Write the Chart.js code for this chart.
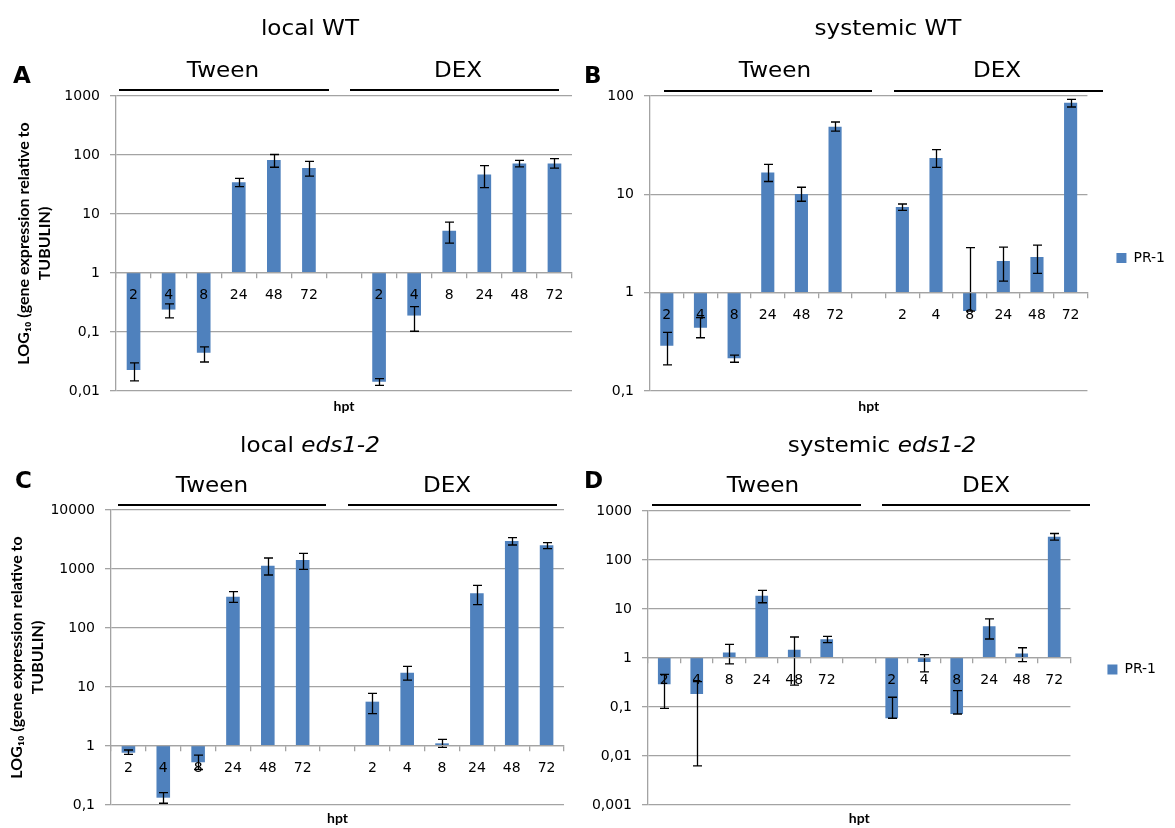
<!DOCTYPE html>
<html>
<head>
<meta charset="utf-8">
<script src="https://cdn.jsdelivr.net/npm/chart.js@4.4.0/dist/chart.umd.min.js"></script>
<style>
  html, body { margin: 0; padding: 0; background: #fff; }
  #wrap { position: relative; width: 1175px; height: 828px; overflow: hidden; background: #fff; }
  canvas { position: absolute; }
  .t { position: absolute; white-space: nowrap; font-family: "DejaVu Sans", sans-serif; color: #000; }
  .ttl { font-size: 21px; line-height: 21px; transform: translateX(-50%) scaleX(1.1); }
  .hdr { font-size: 21px; line-height: 21px; transform: translateX(-50%) scaleX(1.1); }
  .let { font-size: 23px; line-height: 23px; font-weight: bold; }
  .ln { position: absolute; height: 2px; background: #000; }
</style>
</head>
<body>
<div id="wrap">
  <canvas id="cA" width="580" height="420" style="left:0;top:0"></canvas>
  <canvas id="cB" width="595" height="420" style="left:580px;top:0"></canvas>
  <canvas id="cC" width="580" height="408" style="left:0;top:420px"></canvas>
  <canvas id="cD" width="595" height="408" style="left:580px;top:420px"></canvas>

  <div class="t ttl" style="left:310px;top:18px">local WT</div>
  <div class="t ttl" style="left:888px;top:18px">systemic WT</div>
  <div class="t ttl" style="left:310px;top:435px">local <i>eds1-2</i></div>
  <div class="t ttl" style="left:882px;top:435px">systemic <i>eds1-2</i></div>

  <div class="t let" style="left:13px;top:64px">A</div>
  <div class="t let" style="left:584px;top:64px">B</div>
  <div class="t let" style="left:15px;top:469px">C</div>
  <div class="t let" style="left:584px;top:469px">D</div>

  <div class="t hdr" style="left:223px;top:60px">Tween</div>
  <div class="t hdr" style="left:458px;top:60px">DEX</div>
  <div class="ln" style="left:119px;width:210px;top:89px"></div>
  <div class="ln" style="left:350px;width:209px;top:89px"></div>

  <div class="t hdr" style="left:775px;top:60px">Tween</div>
  <div class="t hdr" style="left:997px;top:60px">DEX</div>
  <div class="ln" style="left:664px;width:208px;top:90px"></div>
  <div class="ln" style="left:894px;width:209px;top:90px"></div>

  <div class="t hdr" style="left:212px;top:475px">Tween</div>
  <div class="t hdr" style="left:447px;top:475px">DEX</div>
  <div class="ln" style="left:118px;width:208px;top:504px"></div>
  <div class="ln" style="left:348px;width:209px;top:504px"></div>

  <div class="t hdr" style="left:763px;top:475px">Tween</div>
  <div class="t hdr" style="left:986px;top:475px">DEX</div>
  <div class="ln" style="left:652px;width:209px;top:504px"></div>
  <div class="ln" style="left:882px;width:208px;top:504px"></div>
</div>
<script>
// ---------- data ----------
const categories = ['2','4','8','24','48','72','','2','4','8','24','48','72'];
const seriesName = 'PR-1';

// Panel A: local WT
const A_values  = [0.0226, 0.24, 0.0445, 34.5, 82, 60, null, 0.0144, 0.19, 5.2, 46.5, 72, 72];
const A_errHigh = [0.030, 0.30, 0.056, 40.3, 102, 78, null, 0.0162, 0.27, 7.3, 66, 81, 87];
const A_errLow  = [0.0148, 0.174, 0.031, 29.2, 62, 44, null, 0.0125, 0.103, 3.2, 28, 63, 60];
const A_tickValues = [0.01, 0.1, 1, 10, 100, 1000];
const A_tickLabels = ['0,01', '0,1', '1', '10', '100', '1000'];

// Panel B: systemic WT
const B_values  = [0.289, 0.44, 0.215, 16.7, 10.1, 48.8, null, 7.43, 23.4, 0.65, 2.1, 2.3, 85.5];
const B_errHigh = [0.395, 0.557, 0.232, 20.2, 11.8, 54.4, null, 7.97, 28.5, 2.87, 2.91, 3.05, 92.5];
const B_errLow  = [0.184, 0.348, 0.196, 13.5, 8.5, 44, null, 6.87, 18.8, 0.65, 1.31, 1.57, 77.3];
const B_tickValues = [0.1, 1, 10, 100];
const B_tickLabels = ['0,1', '1', '10', '100'];

// Panel C: local eds1-2
const C_values  = [0.77, 0.133, 0.53, 340, 1138, 1422, null, 5.64, 17.5, 1.11, 387, 2985, 2518];
const C_errHigh = [0.855, 0.162, 0.70, 413, 1536, 1845, null, 7.8, 22.4, 1.3, 529, 3400, 2794];
const C_errLow  = [0.72, 0.107, 0.40, 272, 791, 986, null, 3.53, 13.1, 0.95, 249, 2553, 2213];
const C_tickValues = [0.1, 1, 10, 100, 1000, 10000];
const C_tickLabels = ['0,1', '1', '10', '100', '1000', '10000'];

// Panel D: systemic eds1-2
const D_values  = [0.29, 0.184, 1.3, 18.6, 1.48, 2.4, null, 0.059, 0.83, 0.072, 4.42, 1.24, 297];
const D_errHigh = [0.465, 0.33, 1.9, 23.9, 2.68, 2.77, null, 0.158, 1.17, 0.216, 6.3, 1.62, 347];
const D_errLow  = [0.094, 0.0063, 0.76, 13.4, 0.28, 2.05, null, 0.059, 0.52, 0.072, 2.44, 0.84, 254];
const D_tickValues = [0.001, 0.01, 0.1, 1, 10, 100, 1000];
const D_tickLabels = ['0,001', '0,01', '0,1', '1', '10', '100', '1000'];

const yTitle = ['LOG\u2081\u2080 (gene expression relative to', 'TUBULIN)'];
const xTitle = 'hpt';

// ---------- drawing ----------
const GRID = '#a3a3a3';
const BAR = '#4F81BD';

const errBars = {
  id: 'errBars',
  afterDatasetsDraw(chart, args, opts) {
    const ctx = chart.ctx;
    const ys = chart.scales.y;
    const meta = chart.getDatasetMeta(0);
    ctx.save();
    ctx.strokeStyle = '#000';
    ctx.lineWidth = 1.3;
    opts.hi.forEach((h, i) => {
      const lo = opts.lo[i];
      if (h == null || lo == null || !meta.data[i]) return;
      const x = Math.round(meta.data[i].x) + 0.5;
      const y1 = ys.getPixelForValue(h);
      const y2 = ys.getPixelForValue(lo);
      ctx.beginPath();
      ctx.moveTo(x, y1); ctx.lineTo(x, y2);
      ctx.moveTo(x - 4.5, y1); ctx.lineTo(x + 4.5, y1);
      ctx.moveTo(x - 4.5, y2); ctx.lineTo(x + 4.5, y2);
      ctx.stroke();
    });
    ctx.restore();
  }
};

function panel(id, cfg) {
  const ticksV = cfg.tickValues, ticksL = cfg.tickLabels;
  new Chart(document.getElementById(id), {
    type: 'bar',
    data: {
      labels: categories,
      datasets: [{
        label: seriesName,
        data: cfg.values.map(v => v == null ? null : [1, v]),
        backgroundColor: BAR,
        borderWidth: 0,
        borderSkipped: false,
        barPercentage: 0.39,
        categoryPercentage: 1.0
      }]
    },
    plugins: [errBars],
    options: {
      responsive: false,
      animation: false,
      devicePixelRatio: 1,
      layout: { padding: cfg.padding },
      plugins: {
        tooltip: { enabled: false },
        legend: cfg.legend ? {
          display: true, position: 'right', align: 'center',
          labels: { boxWidth: 10, boxHeight: 10, padding: cfg.legendPad, color: '#000',
                    font: { family: 'DejaVu Sans', size: 14 } }
        } : { display: false },
        errBars: { hi: cfg.hi, lo: cfg.lo }
      },
      scales: {
        x: {
          type: 'category',
          position: { y: 1 },
          offset: true,
          grid: { offset: true, drawOnChartArea: false, drawTicks: true, tickLength: 5, color: GRID, lineWidth: 1.3, z: 1 },
          border: { display: true, color: GRID, width: 1.3, z: 1 },
          ticks: { z: 2, color: '#000', font: { family: 'DejaVu Sans', size: 14 }, padding: 9, maxRotation: 0, autoSkip: false }
        },
        x2: {
          type: 'category',
          position: 'bottom',
          grid: { display: false },
          border: { display: false },
          ticks: { display: false },
          title: { display: true, text: xTitle, color: '#000',
                   font: { family: 'Lato', weight: 'bold', size: 14 }, padding: { top: 0, bottom: cfg.hptPad } },
          afterFit(s) { s.height = cfg.bottomH; }
        },
        y: {
          type: 'logarithmic',
          min: ticksV[0],
          max: ticksV[ticksV.length - 1],
          afterBuildTicks(s) { s.ticks = ticksV.map(v => ({ value: v })); },
          afterFit(s) { s.width = cfg.axisW; },
          grid: { color: GRID, lineWidth: 1.3, tickLength: 6, drawTicks: true },
          border: { display: true, color: GRID, width: 1.3 },
          ticks: { color: '#000', font: { family: 'DejaVu Sans', size: 14 }, padding: 10,
                   callback: (v, i) => ticksL[i] },
          title: cfg.yTitle ? { display: true, text: yTitle, color: '#000',
                   font: { family: 'Lato', weight: 'bold', size: 16, lineHeight: 1.32 },
                   padding: { top: cfg.yTitlePad, bottom: 0 } } : { display: false }
        }
      }
    }
  });
}

panel('cA', { values: A_values, hi: A_errHigh, lo: A_errLow, tickValues: A_tickValues, tickLabels: A_tickLabels,
  padding: { top: 96, left: 0, right: 8, bottom: 0 }, axisW: 116, bottomH: 29, hptPad: 5, yTitle: true, yTitlePad: 13.5, legend: false });
panel('cB', { values: B_values, hi: B_errHigh, lo: B_errLow, tickValues: B_tickValues, tickLabels: B_tickLabels,
  padding: { top: 96, left: 0, right: 0, bottom: 0 }, axisW: 70, bottomH: 29, hptPad: 5, yTitle: false, legend: true, legendPad: 29 });
panel('cC', { values: C_values, hi: C_errHigh, lo: C_errLow, tickValues: C_tickValues, tickLabels: C_tickLabels,
  padding: { top: 90, left: 0, right: 16, bottom: 0 }, axisW: 111, bottomH: 23, hptPad: 1, yTitle: true, yTitlePad: 6, legend: false });
panel('cD', { values: D_values, hi: D_errHigh, lo: D_errLow, tickValues: D_tickValues, tickLabels: D_tickLabels,
  padding: { top: 91, left: 0, right: 9, bottom: 0 }, axisW: 68, bottomH: 23, hptPad: 1, yTitle: false, legend: true, legendPad: 37 });
</script>
</body>
</html>
